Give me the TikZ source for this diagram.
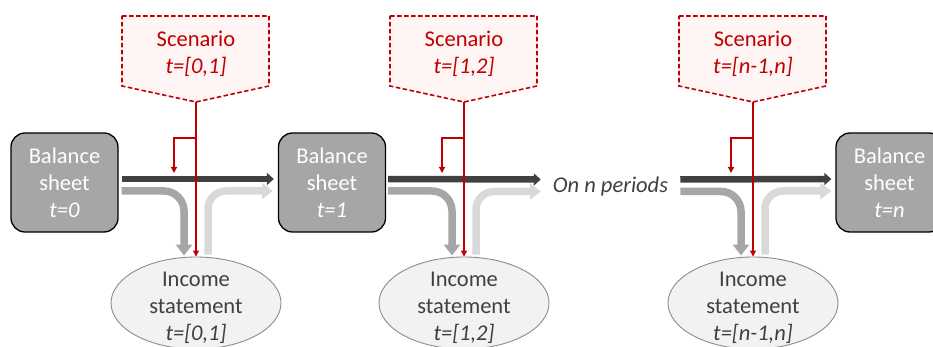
\documentclass[tikz,border=0pt]{standalone}
\usepackage{fontspec}
\setmainfont{Carlito}
\usetikzlibrary{arrows.meta,shapes.geometric}
\definecolor{scred}{HTML}{C00000}
\definecolor{scfill}{HTML}{FFF5F5}
\definecolor{darkflow}{HTML}{404040}
\definecolor{midflow}{HTML}{A6A6A6}
\definecolor{lightflow}{HTML}{D9D9D9}
\definecolor{boxgray}{HTML}{A6A6A6}
\definecolor{ellfill}{HTML}{F2F2F2}
\definecolor{ellline}{HTML}{8C8C8C}
\definecolor{textgray}{HTML}{404040}

\begin{document}
\begin{tikzpicture}[x=1pt,y=-1pt,
  bigfont/.style={font=\fontsize{22.5}{27}\selectfont},
  balance/.style={bigfont, draw=black, line width=1.3pt, fill=boxgray, text=white,
    rounded corners=14pt, minimum width=107pt, minimum height=99pt, align=center, inner sep=0pt},
  income/.style={ellipse, draw=ellline, line width=0.9pt, fill=ellfill,
    minimum width=170pt, minimum height=92pt, inner sep=0pt},
  incometext/.style={bigfont, text=textgray, align=center, inner sep=0pt},
  scenariotext/.style={bigfont, text=scred, align=center, inner sep=0pt},
  scenariobox/.style={draw=scred, fill=scfill, line width=1.6pt, dash pattern=on 4.5pt off 2.5pt},
  periodtext/.style={bigfont, text=textgray, inner sep=0pt},
  redlink/.style={draw=scred, line width=1.2pt, -{Triangle[length=6pt,width=6pt]}},
  darkflowarrow/.style={draw=darkflow, line width=6.5pt, -{Triangle[length=7pt,width=12pt]}},
  midflowarrow/.style={draw=midflow, line width=7.5pt, rounded corners=20pt,
    -{Triangle[length=11pt,width=16pt]}},
  lightflowarrow/.style={draw=lightflow, line width=7.5pt, rounded corners=18pt,
    -{Triangle[length=11pt,width=16pt]}}
]
\useasboundingbox (0,0) rectangle (933,347);

% balance sheets and the period label
\node[balance] (bs0) at (64.5,182.5) {Balance\\sheet\\\textit{t=0}};
\node[balance] (bs1) at (332,182.5) {Balance\\sheet\\\textit{t=1}};
\node[balance] (bsn) at (889.5,182.5) {Balance\\sheet\\\textit{t=n}};
\node[periodtext] (periods) at (610.5,186.5) {\textit{On n periods}};

% one scenario and one income statement per period
\foreach \c/\i/\lab in {196/1/{[0,1]}, 464/2/{[1,2]}, 753/3/{[n-1,n]}} {
  \draw[scenariobox] (\c-74,16) -- (\c+73,16) -- (\c+73,86) -- (\c,102) -- (\c-74,86) -- cycle;
  \coordinate (tip\i) at (\c,102);
  \node[scenariotext] (sc\i) at (\c,53.5) {Scenario\\\textit{t=\lab}};
  \node[income] (is\i) at (\c,303) {};
  \node[incometext] (it\i) at (\c,308) {Income\\statement\\\textit{t=\lab}};
}

% stock flows from one balance sheet to the next
\draw[darkflowarrow] ([xshift=3pt,yshift=3.5pt]bs0.east) -- ([xshift=-4pt,yshift=3.5pt]bs1.west);
\draw[darkflowarrow] ([xshift=2pt,yshift=3.5pt]bs1.east) -- ([xshift=-12pt,yshift=7pt]periods.west);
\draw[darkflowarrow] ([xshift=12pt,yshift=7pt]periods.east) -- ([xshift=-4pt,yshift=3.5pt]bsn.west);

% balance sheet into income statement
\draw[midflowarrow] ([xshift=3pt,yshift=-8.5pt]bs0.east) -| ([xshift=-12pt,yshift=1pt]is1.north);
\draw[midflowarrow] ([xshift=2pt,yshift=-8.5pt]bs1.east) -| ([xshift=-12pt,yshift=1pt]is2.north);
\draw[midflowarrow] ([xshift=12pt,yshift=-5pt]periods.east) -| ([xshift=-12pt,yshift=1pt]is3.north);

% income statement back into the next balance sheet
\draw[lightflowarrow] ([xshift=12pt,yshift=2pt]is1.north) |- ([xshift=-5pt,yshift=-8.5pt]bs1.west);
\draw[lightflowarrow] ([xshift=12pt,yshift=2pt]is2.north) |- ([xshift=-12pt,yshift=-5pt]periods.west);
\draw[lightflowarrow] ([xshift=12pt,yshift=2pt]is3.north) |- ([xshift=-4pt,yshift=-8.5pt]bsn.west);

% scenario links
\foreach \c/\i in {196/1, 464/2, 753/3} {
  \coordinate (br\i) at (\c-22,173);
  \draw[redlink] (tip\i) -- (is\i.north);
  \draw[redlink] ([yshift=-36pt]tip\i) -| (br\i);
}
\end{tikzpicture}
\end{document}
